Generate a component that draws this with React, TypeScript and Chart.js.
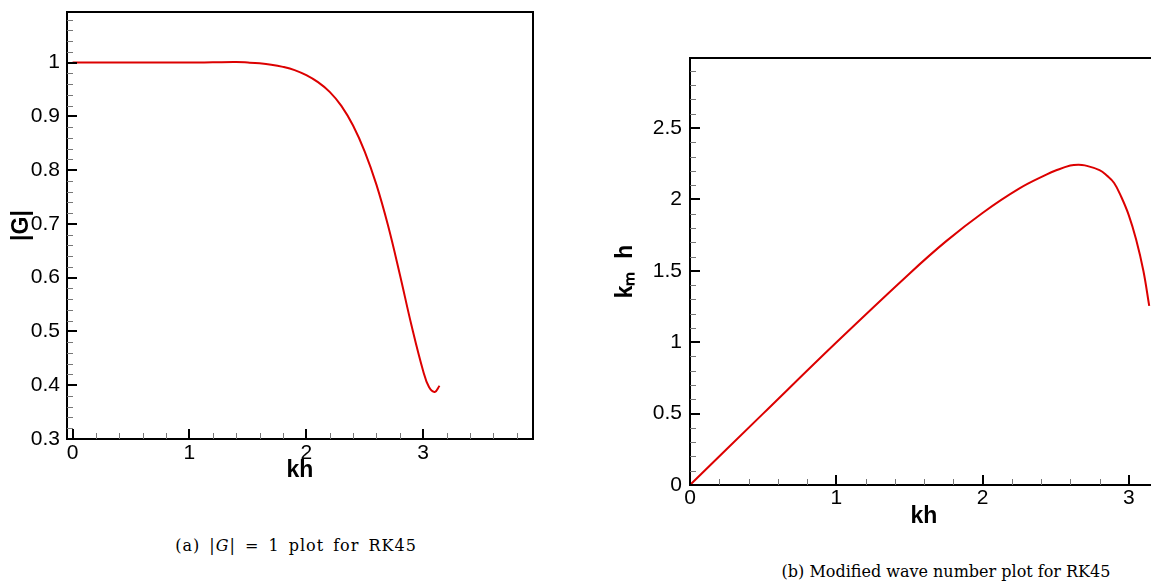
import React, { useEffect, useRef } from "react";
import { Chart, registerables } from "chart.js";
Chart.register(...registerables);

// (a) |G| versus kh
const khG = [0, 0.5, 1.0, 1.2, 1.4, 1.5, 1.6, 1.7, 1.8, 1.9, 2.0, 2.1, 2.2, 2.3, 2.4, 2.5, 2.6, 2.7, 2.8, 2.9, 3.0, 3.05, 3.1, 3.14];
const magG = [1, 1, 1.0, 1.0005, 1.001, 1.0, 0.9985, 0.996, 0.992, 0.986, 0.9765, 0.9635, 0.9455, 0.9195, 0.883, 0.8345, 0.773, 0.6965, 0.6065, 0.5115, 0.4265, 0.3965, 0.3875, 0.399];

// (b) modified wave number k_m h versus kh
const khK = [0, 0.5, 1.0, 1.5, 1.75, 2.0, 2.25, 2.44, 2.5, 2.6, 2.655, 2.7, 2.8, 2.85, 2.9, 2.95, 3.0, 3.05, 3.1, 3.14];
const kmh = [0, 0.5, 0.998, 1.48, 1.706, 1.905, 2.075, 2.175, 2.202, 2.237, 2.243, 2.238, 2.205, 2.167, 2.115, 2.015, 1.89, 1.72, 1.5, 1.254];

const FONT = "'Liberation Sans', Arial, sans-serif";
const RED = "#dc0000";

const framePlugin = {
  id: "frame",
  afterDraw(chart: any) {
    const { ctx, chartArea: a } = chart;
    ctx.save();
    ctx.strokeStyle = "#000";
    ctx.lineWidth = 2;
    ctx.beginPath();
    ctx.moveTo(a.left - 1, a.top);
    ctx.lineTo(a.right, a.top);
    ctx.lineTo(a.right, a.bottom + 1);
    ctx.stroke();
    for (const id of ["x", "y"]) {
      const s = chart.scales[id];
      s.ticks.forEach((t: any) => {
        const major = t.label !== "" && t.label != null;
        const len = major ? 10 : 6;
        ctx.lineWidth = major ? 2 : 1;
        ctx.strokeStyle = major ? "#000" : "#777";
        const p = s.getPixelForValue(t.value);
        const q = major ? Math.round(p) : Math.round(p) + 0.5;
        ctx.beginPath();
        if (id === "x") {
          ctx.moveTo(q, a.bottom);
          ctx.lineTo(q, a.bottom - len);
        } else {
          ctx.moveTo(a.left, q);
          ctx.lineTo(a.left + len, q);
        }
        ctx.stroke();
      });
    }
    ctx.restore();
  },
};

function fmt(major: number) {
  return (v: any) => {
    const r = v / major;
    if (Math.abs(r - Math.round(r)) < 1e-6) return String(Number((Math.round(r) * major).toFixed(3)));
    return "";
  };
}

interface PlotProps {
  xs: number[];
  ys: number[];
  left: number;
  width: number;
  height: number;
  pad: { left: number; right: number; top: number; bottom: number };
  yWidth: number;
  xHeight: number;
  xMin: number;
  xMax: number;
  xMinor: number;
  xMajor: number;
  yMin: number;
  yMax: number;
  yMinor: number;
  yMajor: number;
  xTitle: string;
  yTitle: string;
  xTitlePad: number;
  yTitlePad: number;
  yTickPad: number;
  xTickPad: number;
}

function Plot(p: PlotProps) {
  const ref = useRef<HTMLCanvasElement | null>(null);
  useEffect(() => {
    if (!ref.current) return;
    const chart = new Chart(ref.current, {
      type: "line",
      data: {
        datasets: [
          {
            data: p.xs.map((x, i) => ({ x, y: p.ys[i] })),
            borderColor: RED,
            borderWidth: 2,
            pointRadius: 0,
            fill: false,
            tension: 0.4,
          },
        ],
      },
      options: {
        responsive: false,
        animation: false,
        layout: { padding: p.pad },
        plugins: { legend: { display: false }, tooltip: { enabled: false } },
        scales: {
          x: {
            type: "linear",
            min: p.xMin,
            max: p.xMax,
            afterFit: (s: any) => {
              s.height = p.xHeight;
              s.paddingLeft = 0;
              s.paddingRight = 0;
            },
            grid: { display: true, drawOnChartArea: false, drawTicks: false },
            border: { display: true, color: "#000", width: 2 },
            ticks: {
              stepSize: p.xMinor,
              includeBounds: false,
              autoSkip: false,
              maxRotation: 0,
              padding: p.xTickPad,
              color: "#000",
              font: { family: FONT, size: 21 },
              callback: fmt(p.xMajor),
            },
            title: {
              display: true,
              text: p.xTitle,
              color: "#000",
              font: { family: FONT, size: 23, weight: "bold" },
              padding: { top: p.xTitlePad, bottom: p.xTitlePad },
            },
          },
          y: {
            type: "linear",
            min: p.yMin,
            max: p.yMax,
            afterFit: (s: any) => {
              s.width = p.yWidth;
              s.paddingTop = 0;
              s.paddingBottom = 0;
            },
            grid: { display: true, drawOnChartArea: false, drawTicks: false },
            border: { display: true, color: "#000", width: 2 },
            ticks: {
              stepSize: p.yMinor,
              includeBounds: false,
              autoSkip: false,
              padding: p.yTickPad,
              color: "#000",
              font: { family: FONT, size: 21 },
              callback: fmt(p.yMajor),
            },
            title: {
              display: true,
              text: p.yTitle,
              color: "#000",
              font: { family: FONT, size: 23, weight: "bold" },
              padding: { top: p.yTitlePad, bottom: p.yTitlePad },
            },
          },
        },
      } as any,
      plugins: [framePlugin],
    });
    return () => chart.destroy();
  }, []);
  return (
    <canvas
      ref={ref}
      width={p.width}
      height={p.height}
      style={{ position: "absolute", left: p.left, top: 0, width: p.width, height: p.height }}
    />
  );
}

const captionStyle: React.CSSProperties = {
  position: "absolute",
  fontFamily: "'DejaVu Serif', 'Liberation Serif', serif",
  fontSize: 16,
  lineHeight: "20px",
  textAlign: "center",
  color: "#000",
  whiteSpace: "nowrap",
};

export default function App() {
  return (
    <div
      style={{
        position: "absolute",
        left: 0,
        top: 0,
        width: 1151,
        height: 584,
        overflow: "hidden",
        background: "#fff",
      }}
    >
      <Plot
        xs={khG}
        ys={magG}
        left={0}
        width={560}
        height={500}
        pad={{ left: 0, right: 27, top: 12, bottom: 0 }}
        yWidth={67}
        xHeight={61}
        xMin={-0.048}
        xMax={3.94}
        xMinor={0.2}
        xMajor={1}
        yMin={0.3}
        yMax={1.094}
        yMinor={0.02}
        yMajor={0.1}
        xTitle="kh"
        yTitle="|G|"
        xTitlePad={16}
        yTitlePad={8}
        yTickPad={7}
        xTickPad={2}
      />
      <Plot
        xs={khK}
        ys={kmh}
        left={580}
        width={640}
        height={540}
        pad={{ left: 0, right: 62, top: 58, bottom: 0 }}
        yWidth={110}
        xHeight={55}
        xMin={0}
        xMax={3.2}
        xMinor={0.2}
        xMajor={1}
        yMin={0}
        yMax={2.99}
        yMinor={0.1}
        yMajor={0.5}
        xTitle="kh"
        yTitle="kₘ  h"
        xTitlePad={10}
        yTitlePad={32}
        yTickPad={8}
        xTickPad={1}
      />
      <div style={{ ...captionStyle, left: 46, width: 500, top: 536, letterSpacing: 1, wordSpacing: 3 }}>
        (a) |<i>G</i>| = 1 plot for RK45
      </div>
      <div style={{ ...captionStyle, left: 696, width: 500, top: 562 }}>(b) Modified wave number plot for RK45</div>
    </div>
  );
}
